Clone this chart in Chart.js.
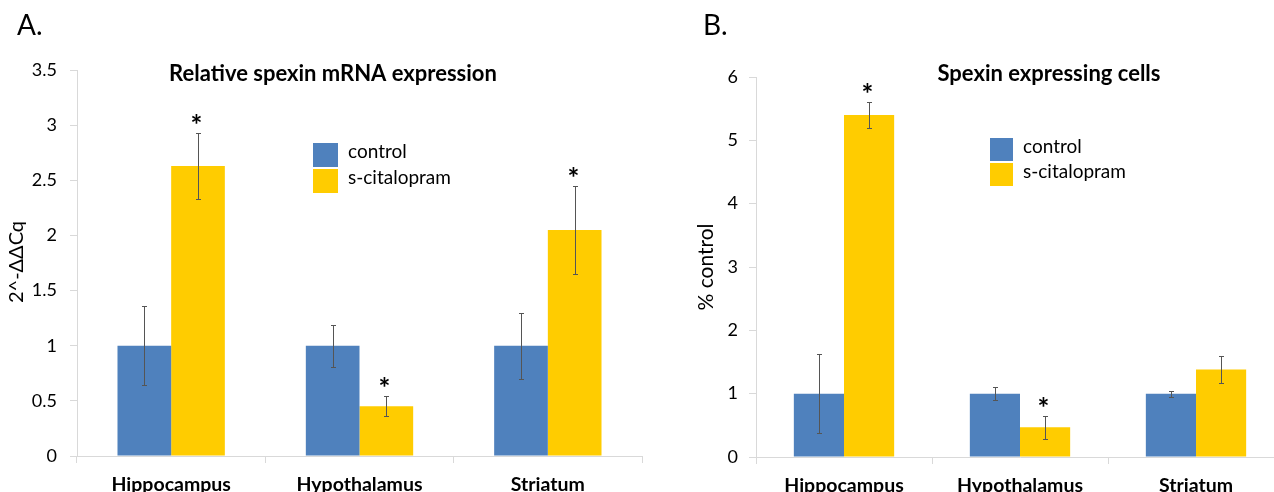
<!DOCTYPE html>
<html lang="en">
<head>
    <meta charset="UTF-8">
    <title>Spexin expression</title>
    <script src="https://cdn.jsdelivr.net/npm/chart.js"></script>
    <style>
        body {
            margin: 0;
            padding: 0;
            background-color: #ffffff;
            overflow: hidden;
        }
        .wrap {
            position: relative;
            width: 1274px;
            height: 492px;
            overflow: hidden;
        }
        canvas {
            position: absolute;
            top: 0;
        }
        #chartA { left: 0; }
        #chartB { left: 640px; }
    </style>
</head>
<body>
<div class="wrap">
    <canvas id="chartA" width="650" height="492"></canvas>
    <canvas id="chartB" width="650" height="492"></canvas>
</div>
<script>
    // Données
    const categories = ['Hippocampus', 'Hypothalamus', 'Striatum'];
    const seriesNames = ['control', 's-citalopram'];
    const seriesColors = ['#4F81BD', '#FFCC00'];

    // A. expression relative de l'ARNm
    const mrnaControl = [1, 1, 1];
    const mrnaCitalopram = [2.63, 0.45, 2.05];
    const mrnaControlErr = [0.36, 0.19, 0.30];
    const mrnaCitalopramErr = [0.30, 0.09, 0.40];
    const mrnaControlStars = [false, false, false];
    const mrnaCitalopramStars = [true, true, true];
    const mrnaTicks = { min: 0, max: 3.5, step: 0.5 };

    // B. cellules exprimant la spexine
    const cellsControl = [1, 1, 1];
    const cellsCitalopram = [5.40, 0.47, 1.38];
    const cellsControlErr = [0.62, 0.105, 0.045];
    const cellsCitalopramErr = [0.205, 0.18, 0.215];
    const cellsControlStars = [false, false, false];
    const cellsCitalopramStars = [true, true, false];
    const cellsTicks = { min: 0, max: 6, step: 1 };

    const FONT = 'Lato, "Open Sans", sans-serif';
    const AXIS = '#d9d9d9';

    // Barres d'erreur, astérisques, titres et légende
    const extras = {
        id: 'extras',
        afterDatasetsDraw(chart, args, o) {
            const ctx = chart.ctx;
            const y = chart.scales.y;
            ctx.save();
            o.errors.forEach((errs, di) => {
                const meta = chart.getDatasetMeta(di);
                meta.data.forEach((bar, j) => {
                    const v = chart.data.datasets[di].data[j];
                    const x = Math.round(bar.x) + 0.5;
                    const top = Math.round(y.getPixelForValue(v + errs[j])) + 0.5;
                    const bot = Math.round(y.getPixelForValue(v - errs[j])) + 0.5;
                    ctx.strokeStyle = '#555555';
                    ctx.lineWidth = 1;
                    ctx.beginPath();
                    ctx.moveTo(x, top); ctx.lineTo(x, bot);
                    ctx.moveTo(x - 2.5, top); ctx.lineTo(x + 2.5, top);
                    ctx.moveTo(x - 2.5, bot); ctx.lineTo(x + 2.5, bot);
                    ctx.stroke();
                    if (o.stars[di][j]) {
                        ctx.fillStyle = '#000000';
                        ctx.font = 'bold 28px ' + FONT;
                        ctx.textAlign = 'center';
                        ctx.textBaseline = 'alphabetic';
                        ctx.fillText('*', x - 2, top + 1);
                    }
                });
            });
            ctx.restore();
        },
        afterDraw(chart, args, o) {
            const ctx = chart.ctx;
            ctx.save();
            ctx.fillStyle = '#000000';
            ctx.textBaseline = 'alphabetic';
            // lettre du panneau
            ctx.font = '28px ' + FONT;
            ctx.textAlign = 'left';
            ctx.fillText(o.panel, o.panelX, 35);
            // titre
            ctx.font = 'bold 22px ' + FONT;
            ctx.textAlign = 'center';
            ctx.fillText(o.title, o.titleX, 81);
            // titre de l'axe y
            ctx.save();
            ctx.translate(o.yTitleX, o.yTitleY);
            ctx.rotate(-Math.PI / 2);
            ctx.font = o.yTitleFont + 'px ' + FONT;
            ctx.textAlign = 'center';
            ctx.textBaseline = 'middle';
            ctx.fillText(o.yTitle, 0, 0);
            ctx.restore();
            // légende
            ctx.font = '19px ' + FONT;
            ctx.textAlign = 'left';
            chart.data.datasets.forEach((ds, i) => {
                const by = o.legendY + i * o.legendRow;
                ctx.fillStyle = ds.backgroundColor;
                ctx.fillRect(o.legendX, by, o.legendBox, o.legendRow - 2);
                ctx.fillStyle = '#000000';
                ctx.fillText(ds.label, o.legendX + o.legendBox + 10, by + 15);
            });
            ctx.restore();
        }
    };

    function makeChart(id, control, citalopram, ticks, axisWidth, tickPad, rightPad, topPad, xHeight, extra) {
        return new Chart(document.getElementById(id), {
            type: 'bar',
            data: {
                labels: categories,
                datasets: [
                    { label: seriesNames[0], data: control, backgroundColor: seriesColors[0] },
                    { label: seriesNames[1], data: citalopram, backgroundColor: seriesColors[1] }
                ]
            },
            options: {
                responsive: false,
                animation: false,
                layout: { padding: { left: 0, right: rightPad, top: topPad, bottom: 0 } },
                datasets: { bar: { categoryPercentage: 0.57, barPercentage: 1.0 } },
                plugins: {
                    legend: { display: false },
                    tooltip: { enabled: false },
                    extras: extra
                },
                scales: {
                    x: {
                        grid: { drawOnChartArea: false, drawTicks: true, tickLength: 7, color: AXIS },
                        border: { color: AXIS, width: 1 },
                        ticks: { color: '#000000', padding: 10, font: { family: FONT, size: 19.5, weight: 'bold' } },
                        afterFit(scale) { scale.height = xHeight; }
                    },
                    y: {
                        min: ticks.min,
                        max: ticks.max,
                        grid: { drawOnChartArea: false, drawTicks: true, tickLength: 7, color: AXIS },
                        border: { color: AXIS, width: 1 },
                        ticks: {
                            stepSize: ticks.step, color: '#000000', padding: tickPad,
                            font: { family: FONT, size: 18 },
                            callback: (v) => String(v)
                        },
                        afterFit(scale) { scale.width = axisWidth; }
                    }
                }
            },
            plugins: [extras]
        });
    }

    makeChart('chartA', mrnaControl, mrnaCitalopram, mrnaTicks, 77, 13, 8, 70, 36, {
        panel: 'A.', panelX: 17,
        title: 'Relative spexin mRNA expression', titleX: 333,
        yTitle: '2^-ΔΔCq', yTitleX: 17, yTitleY: 262, yTitleFont: 20,
        legendX: 313, legendY: 143, legendRow: 26, legendBox: 25,
        errors: [mrnaControlErr, mrnaCitalopramErr],
        stars: [mrnaControlStars, mrnaCitalopramStars]
    });

    makeChart('chartB', cellsControl, cellsCitalopram, cellsTicks, 116, 11, 6, 77, 35, {
        panel: 'B.', panelX: 63,
        title: 'Spexin expressing cells', titleX: 409,
        yTitle: '% control', yTitleX: 66, yTitleY: 267, yTitleFont: 21,
        legendX: 350, legendY: 138, legendRow: 25, legendBox: 23,
        errors: [cellsControlErr, cellsCitalopramErr],
        stars: [cellsControlStars, cellsCitalopramStars]
    });
</script>
</body>
</html>
